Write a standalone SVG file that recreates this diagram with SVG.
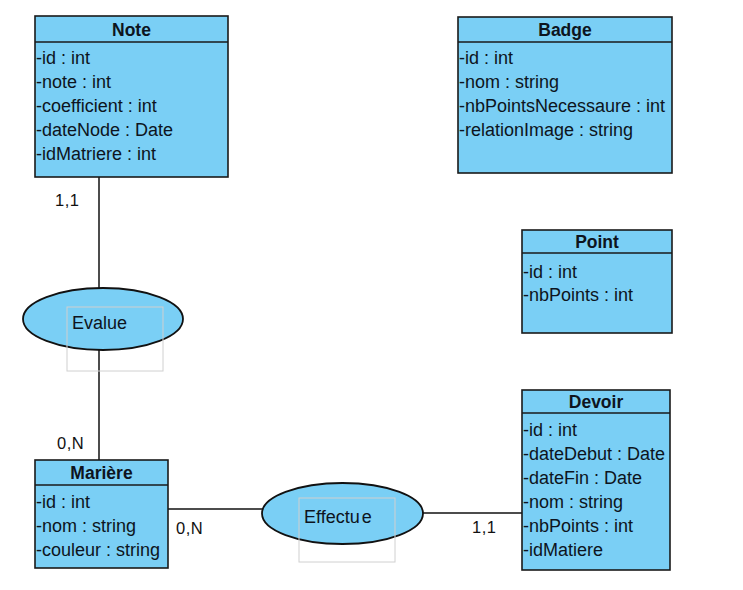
<svg xmlns="http://www.w3.org/2000/svg" width="743" height="590" viewBox="0 0 743 590">
<style>
.box{fill:#7acff5;stroke:#1a1a1a;stroke-width:1.6}
.sep{stroke:#1a1a1a;stroke-width:1.6}
.title{font-family:"Liberation Sans",Arial,sans-serif;font-weight:bold;font-size:17.5px;fill:#0d1420;text-anchor:middle}
.attr{font-family:"Liberation Sans",Arial,sans-serif;font-size:18px;fill:#0d1420}
.lbl{font-family:"Liberation Sans",Arial,sans-serif;font-size:16.5px;fill:#111;letter-spacing:0.5px}
.conn{stroke:#111;stroke-width:1.5;fill:none}
.ell{fill:#7acff5;stroke:#111;stroke-width:1.8}
.ghost{fill:none;stroke:#d0d0d0;stroke-width:1}
.rel{font-family:"Liberation Sans",Arial,sans-serif;font-size:18px;fill:#0d1420}
</style>
<rect width="743" height="590" fill="#ffffff"/>
<g id="connectors">
<line class="conn" x1="99" y1="177" x2="99" y2="288"/>
<line class="conn" x1="99" y1="350" x2="99" y2="460"/>
<line class="conn" x1="168" y1="509" x2="263" y2="509"/>
<line class="conn" x1="423" y1="513" x2="522" y2="513"/>
<text class="lbl" x="55" y="206">1,1</text>
<text class="lbl" x="57" y="449">0,N</text>
<text class="lbl" x="176" y="534">0,N</text>
<text class="lbl" x="472" y="533">1,1</text>
</g>
<g id="note">
<rect class="box" x="35" y="16" width="193" height="161"/>
<line class="sep" x1="35" y1="42" x2="228" y2="42"/>
<text class="title" x="131.5" y="36">Note</text>
<text class="attr" x="36" y="64">-id : int</text>
<text class="attr" x="36" y="88">-note : int</text>
<text class="attr" x="36" y="112">-coefficient : int</text>
<text class="attr" x="36" y="136">-dateNode : Date</text>
<text class="attr" x="36" y="160">-idMatriere : int</text>
</g>
<g id="badge">
<rect class="box" x="458" y="17" width="214" height="156"/>
<line class="sep" x1="458" y1="42" x2="672" y2="42"/>
<text class="title" x="565" y="36">Badge</text>
<text class="attr" x="459" y="64">-id : int</text>
<text class="attr" x="459" y="88">-nom : string</text>
<text class="attr" x="459" y="112">-nbPointsNecessaure : int</text>
<text class="attr" x="459" y="136">-relationImage : string</text>
</g>
<g id="point">
<rect class="box" x="522" y="230" width="150" height="103"/>
<line class="sep" x1="522" y1="253" x2="672" y2="253"/>
<text class="title" x="597" y="248">Point</text>
<text class="attr" x="523" y="278">-id : int</text>
<text class="attr" x="523" y="301">-nbPoints : int</text>
</g>
<g id="devoir">
<rect class="box" x="522" y="390" width="148" height="180"/>
<line class="sep" x1="522" y1="413" x2="670" y2="413"/>
<text class="title" x="596" y="408">Devoir</text>
<text class="attr" x="523" y="436">-id : int</text>
<text class="attr" x="523" y="460">-dateDebut : Date</text>
<text class="attr" x="523" y="484">-dateFin : Date</text>
<text class="attr" x="523" y="508">-nom : string</text>
<text class="attr" x="523" y="532">-nbPoints : int</text>
<text class="attr" x="523" y="556">-idMatiere</text>
</g>
<g id="matiere">
<rect class="box" x="35" y="460" width="133" height="108"/>
<line class="sep" x1="35" y1="485" x2="168" y2="485"/>
<text class="title" x="101.5" y="479">Marière</text>
<text class="attr" x="36" y="508">-id : int</text>
<text class="attr" x="36" y="532">-nom : string</text>
<text class="attr" x="36" y="556">-couleur : string</text>
</g>
<g id="evalue">
<ellipse class="ell" cx="103" cy="319" rx="80" ry="31"/>
<rect class="ghost" x="67" y="307" width="96" height="64"/>
<text class="rel" x="72" y="329">Evalue</text>
</g>
<g id="effectue">
<ellipse class="ell" cx="342.5" cy="513.5" rx="80.5" ry="30.5"/>
<rect class="ghost" x="299" y="498" width="96" height="64"/>
<text class="rel" x="304" y="523">Effectu<tspan dx="2">e</tspan></text>
</g>
</svg>
